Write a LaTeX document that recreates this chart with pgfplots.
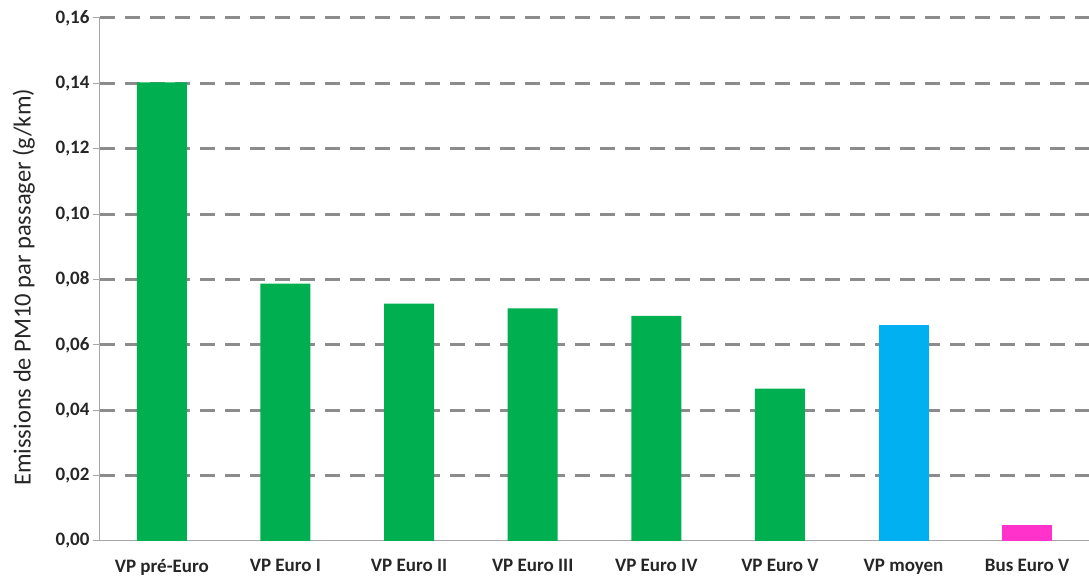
\documentclass[border=0pt]{standalone}
\usepackage{fontspec}
\setmainfont{Carlito}
\usepackage{pgfplots}
\pgfplotsset{compat=1.18}

\definecolor{vpgreen}{HTML}{00B050}
\definecolor{vpblue}{HTML}{00B0F0}
\definecolor{buspink}{HTML}{FF33CC}
\definecolor{gridgray}{HTML}{8C8C8C}
\definecolor{axisgray}{HTML}{A6A6A6}

\begin{document}
\begin{tikzpicture}[x=1pt,y=1pt]
\useasboundingbox (-100,-36) rectangle (989,541);
\begin{axis}[
  at={(0,0)}, anchor=south west,
  scale only axis,
  width=989pt, height=523pt,
  xmin=-0.5, xmax=7.5,
  ymin=0, ymax=0.16,
  ytick={0.02,0.04,...,0.161},
  extra y ticks={0},
  extra y tick style={grid=none},
  ymajorgrids,
  major grid style={gridgray, line width=3pt, dash pattern=on 15pt off 10pt},
  axis x line*=bottom,
  axis y line*=left,
  axis line style={axisgray, line width=1pt},
  tick align=outside,
  major tick length=7pt,
  ytick style={axisgray, line width=1pt},
  xtick={0,...,7},
  xtick style={draw=none},
  minor xtick={0.5,1.5,...,6.5},
  minor tick length=5pt,
  minor x tick style={axisgray, line width=1pt},
  xticklabels={VP pré-Euro, VP Euro I, VP Euro II, VP Euro III, VP Euro IV, VP Euro V, VP moyen, Bus Euro V},
  ticklabel style={font=\fontsize{19}{22}\selectfont\bfseries, text=black!85},
  xticklabel style={yshift=-8pt},
  yticklabel style={/pgf/number format/.cd, fixed, fixed zerofill, precision=2, use comma, assume math mode=true},
  ylabel={Emissions de PM10 par passager (g/km)},
  ylabel style={font=\fontsize{24.5}{28}\selectfont, text=black!85, at={(ticklabel cs:0.485)}},
  ybar, bar width=50pt, bar shift=0pt,
]
\addplot[fill=vpgreen, draw=none] coordinates {
  (0,0.1403) (1,0.0787) (2,0.0726) (3,0.0712) (4,0.0689) (5,0.0466)
};
\addplot[fill=vpblue, draw=none] coordinates {(6,0.0661)};
\addplot[fill=buspink, draw=none] coordinates {(7,0.0048)};
\end{axis}
\end{tikzpicture}
\end{document}
